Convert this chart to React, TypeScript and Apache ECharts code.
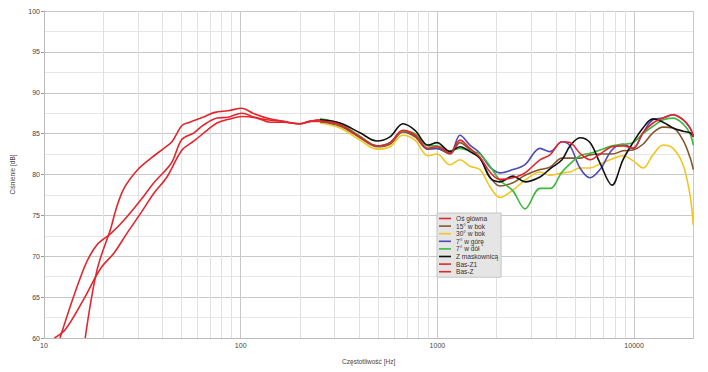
import React, { useEffect, useRef } from "react";
import * as echarts from "echarts";

// ---- data ----
const xTickLabels = [10, 100, 1000, 10000];
const minorFreqs = [20, 30, 40, 50, 60, 70, 80, 90, 200, 300, 400, 500, 600, 700, 800, 900, 2000, 3000, 4000, 5000, 6000, 7000, 8000, 9000];

const mainFreqs = [253, 320, 404, 493, 574, 668, 769, 896, 995, 1159, 1303, 1464, 1647, 1851, 2080, 2420, 2789, 3324, 3737, 4300, 4722, 5308, 5967, 6708, 7720, 8780, 9870, 11100, 12470, 14030, 15770, 17730, 19240, 20000];

const osGlowna = [86.5, 86.1, 84.6, 83.5, 83.9, 85.4, 84.8, 83.2, 83.4, 82.6, 84.2, 83.2, 82.1, 80.3, 79.4, 79.6, 80.2, 81.8, 82.4, 84.0, 83.9, 82.6, 81.8, 82.5, 83.4, 83.5, 83.2, 85.1, 86.3, 86.9, 87.3, 86.7, 85.7, 84.6];
const bok15 = [86.4, 85.9, 84.5, 83.4, 83.7, 85.2, 84.6, 83.1, 83.2, 82.5, 83.9, 83.0, 82.0, 79.7, 78.6, 79.0, 79.9, 80.6, 80.9, 82.0, 82.0, 82.0, 82.4, 82.5, 82.5, 82.9, 83.0, 83.7, 85.1, 85.8, 85.7, 84.2, 82.1, 80.6];
const bok30 = [86.3, 85.7, 84.2, 83.1, 83.4, 84.8, 84.2, 82.3, 82.5, 81.2, 81.8, 81.0, 80.6, 78.5, 77.2, 78.1, 79.3, 80.3, 79.9, 80.2, 80.3, 80.8, 80.8, 81.3, 81.9, 82.3, 81.7, 80.8, 82.4, 83.6, 83.2, 81.2, 77.5, 73.8];
const gora7 = [86.5, 86.1, 84.6, 83.5, 83.9, 85.3, 84.8, 83.1, 83.2, 82.6, 84.8, 83.6, 82.6, 80.9, 80.2, 80.6, 81.2, 83.2, 82.8, 84.0, 83.5, 80.8, 79.6, 80.6, 83.0, 83.7, 83.2, 85.1, 86.7, 86.9, 87.3, 86.7, 85.7, 84.8];
const dol7 = [86.8, 86.2, 84.7, 83.5, 83.9, 85.3, 85.0, 83.5, 83.5, 82.9, 83.2, 82.9, 82.5, 81.0, 79.3, 78.0, 75.8, 78.3, 78.3, 80.3, 81.3, 82.3, 82.6, 83.0, 83.5, 83.7, 83.9, 85.0, 85.9, 86.7, 86.9, 86.2, 85.0, 83.6];
const maskownica = [86.7, 86.3, 85.1, 84.1, 84.6, 86.2, 85.4, 83.6, 83.9, 82.8, 83.4, 82.8, 82.0, 79.6, 79.1, 79.8, 79.1, 79.7, 80.7, 81.8, 83.5, 84.5, 83.9, 81.4, 78.7, 81.8, 83.9, 85.7, 86.8, 86.4, 85.7, 85.3, 85.1, 84.6];

// bass curves
const bassAFreqs = [12.06, 16.0, 18.6, 21.9, 25.5, 31.1, 36.2, 40.7, 44.7, 50.3, 57.9, 64.3, 75.8, 86.2, 101.5, 118, 136, 164, 200, 225];
const bassA = [60.0, 68.6, 71.4, 72.8, 74.4, 76.9, 79.0, 80.3, 81.5, 84.3, 85.1, 86.0, 86.9, 87.0, 87.5, 87.0, 86.7, 86.5, 86.2, 86.5];
const basZ1Freqs = [16.2, 18.6, 21.9, 23.2, 25.5, 29.7, 35.0, 40.7, 44.7, 50.3, 55.2, 64.3, 74.0, 86.2, 101.5, 115.5, 136, 164, 200, 225, 253];
const basZ1 = [60.0, 68.3, 73.5, 75.7, 78.3, 80.5, 82.0, 83.2, 84.0, 86.0, 86.4, 87.0, 87.6, 87.8, 88.1, 87.5, 86.9, 86.5, 86.2, 86.5, 86.7];
const basZFreqs = [11.3, 12.8, 15.8, 19.4, 22.7, 26.4, 31.1, 36.2, 42.2, 50.3, 57.9, 67.4, 75.8, 88.2, 101.5, 121, 141, 164, 200, 225, 253];
const basZ = [60.0, 61.0, 64.6, 68.5, 70.4, 72.8, 75.3, 77.7, 79.7, 83.0, 84.1, 85.4, 86.3, 86.8, 87.1, 86.9, 86.4, 86.4, 86.2, 86.5, 86.7];

const seriesNames = ["Oś główna", "15° w bok", "30° w bok", "7° w górę", "7° w dół", "Z maskownicą", "Bas-Z1", "Bas-Z"];
const seriesColors = ["#e3262d", "#85562a", "#f3c51e", "#4b4bb5", "#3fb83f", "#111111", "#e3262d", "#e3262d"];

const pair = (fs: number[], vs: number[]) => fs.map((f, i) => [f, vs[i]]);

export default function App() {
  const ref = useRef<HTMLDivElement>(null);
  useEffect(() => {
    if (!ref.current) return;
    const chart = echarts.init(ref.current, undefined, { renderer: "svg" });
    const datasets = [
      pair(bassAFreqs, bassA).concat(pair(mainFreqs, osGlowna)),
      pair(mainFreqs, bok15),
      pair(mainFreqs, bok30),
      pair(mainFreqs, gora7),
      pair(mainFreqs, dol7),
      pair(mainFreqs, maskownica),
      pair(basZ1Freqs, basZ1),
      pair(basZFreqs, basZ),
    ];
    const order = [1, 2, 3, 4, 5, 0, 6, 7];
    const series: any[] = order.map((i) => ({
      name: seriesNames[i],
      type: "line",
      data: datasets[i],
      smooth: 0.35,
      symbol: "none",
      showSymbol: false,
      clip: true,
      lineStyle: { color: seriesColors[i], width: 1.6 },
      itemStyle: { color: seriesColors[i] },
      z: 3,
    }));
    series[0].markLine = {
      silent: true,
      symbol: "none",
      label: { show: false },
      lineStyle: { color: "#e0e0e0", width: 1, type: "solid" },
      data: minorFreqs.map((f) => ({ xAxis: f })),
      z: 1,
    };
    const font = "Liberation Sans";
    chart.setOption({
      animation: false,
      backgroundColor: "#ffffff",
      grid: { left: 44, top: 11, right: 14.7, bottom: 34 },
      legend: {
        orient: "vertical",
        left: 437,
        top: 213,
        data: seriesNames,
        itemWidth: 12,
        itemHeight: 6,
        itemGap: 0.6,
        padding: [2, 3, 2, 2],
        backgroundColor: "#e5e5e5",
        borderColor: "#c4c4c4",
        borderWidth: 1,
        borderRadius: 0,
        textStyle: { fontFamily: font, fontSize: 6.6, color: "#333" },
        icon: "path://M0,2.6 L12,2.6 L12,4.2 L0,4.2 Z",
      },
      xAxis: {
        type: "log",
        logBase: 10,
        min: 10,
        max: 20000,
        name: "Częstotliwość [Hz]",
        nameLocation: "middle",
        nameGap: 20,
        nameTextStyle: { fontFamily: font, fontSize: 6.5, color: "#444" },
        axisLine: { show: true, lineStyle: { color: "#bbbbbb" } },
        axisTick: { show: false },
        axisLabel: {
          fontFamily: font,
          fontSize: 7,
          color: "#444",
          margin: 4,
          formatter: (v: number) => (xTickLabels.some((t) => Math.abs(t - v) / t < 1e-6) ? String(Math.round(v)) : ""),
        },
        splitLine: { show: true, lineStyle: { color: "#c8c8c8", width: 1 } },
      },
      yAxis: {
        type: "value",
        min: 60,
        max: 100,
        interval: 5,
        name: "Ciśnienie [dB]",
        nameLocation: "middle",
        nameGap: 28,
        nameRotate: 90,
        nameTextStyle: { fontFamily: font, fontSize: 6.5, color: "#444" },
        axisLine: { show: true, lineStyle: { color: "#bbbbbb" } },
        axisTick: { show: true, length: 3, lineStyle: { color: "#999" } },
        axisLabel: { fontFamily: font, fontSize: 7, color: "#444", margin: 4 },
        splitLine: { show: true, lineStyle: { color: "#c8c8c8", width: 1 } },
        minorTick: { show: false, splitNumber: 2 },
        minorSplitLine: { show: true, lineStyle: { color: "#e6e6e6", width: 1 } },
      },
      series,
    });
    return () => chart.dispose();
  }, []);
  return <div ref={ref} style={{ position: "fixed", left: 0, top: 0, width: 708, height: 372 }} />;
}
